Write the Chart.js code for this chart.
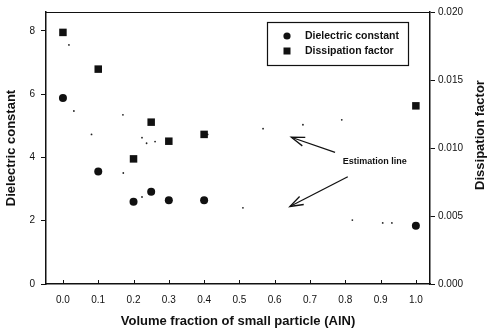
<!DOCTYPE html>
<html>
<head>
<meta charset="utf-8">
<script src="https://cdn.jsdelivr.net/npm/chart.js@4.4.1/dist/chart.umd.min.js"></script>
<style>
  html, body { margin: 0; padding: 0; background: #fff; }
  #wrap { width: 495px; height: 336px; position: relative; }
</style>
</head>
<body>
<div id="wrap"><canvas id="c" width="495" height="336"></canvas></div>
<script>
// ---- data ----
const volumeFraction = [0.0, 0.1, 0.2, 0.25, 0.3, 0.4, 1.0];
const dielectricConstant = [5.88, 3.56, 2.60, 2.92, 2.65, 2.65, 1.84];
const dissipationFactor = [0.0185, 0.0158, 0.0092, 0.0119, 0.0105, 0.0110, 0.0131];

// estimation line (dotted, scanned) sample points
const estDielectricX = [0.031, 0.081, 0.171, 0.224, 0.51, 0.82, 0.906, 0.932];
const estDielectricY = [5.47, 4.73, 3.51, 2.75, 2.41, 2.02, 1.93, 1.93];
const estDissipationX = [0.017, 0.17, 0.224, 0.237, 0.261, 0.41, 0.567, 0.68, 0.79];
const estDissipationY = [0.01758, 0.01244, 0.01076, 0.01035, 0.01047, 0.0110, 0.01142, 0.01171, 0.01207];

// tick labels
const xTicks = [0.0, 0.1, 0.2, 0.3, 0.4, 0.5, 0.6, 0.7, 0.8, 0.9, 1.0];
const leftTicks = [0, 2, 4, 6, 8];
const rightTicks = [0.000, 0.005, 0.010, 0.015, 0.020];

const seriesNames = ['Dielectric constant', 'Dissipation factor'];
const annotationText = 'Estimation line';
const xTitle = 'Volume fraction of small particle (AlN)';
const leftTitle = 'Dielectric constant';
const rightTitle = 'Dissipation factor';

// ---- build ----
const pts = (xs, ys) => xs.map((x, i) => ({ x: x, y: ys[i] }));
const INK = '#111';
const FONT = '"Liberation Sans", Arial, sans-serif';

// annotation arrows (data coords on x / left axis)
const arrows = [
  { from: [0.771, 4.16], to: [0.647, 4.64] },
  { from: [0.807, 3.39], to: [0.643, 2.45] }
];
const labelAt = [0.793, 3.88];

const extras = {
  id: 'extras',
  afterDraw(chart) {
    const ctx = chart.ctx;
    const a = chart.chartArea;
    const xs = chart.scales.x, ys = chart.scales.y;
    ctx.save();
    ctx.strokeStyle = INK;
    ctx.fillStyle = INK;
    // top frame
    ctx.lineWidth = 1.2;
    ctx.beginPath();
    ctx.moveTo(a.left, a.top + 0.5);
    ctx.lineTo(a.right, a.top + 0.5);
    ctx.stroke();
    // inward x ticks
    ctx.lineWidth = 1;
    xTicks.forEach(v => {
      const px = Math.round(xs.getPixelForValue(v)) + 0.5;
      ctx.beginPath();
      ctx.moveTo(px, a.bottom);
      ctx.lineTo(px, a.bottom - 4);
      ctx.stroke();
    });
    // arrows
    ctx.lineWidth = 1.3;
    arrows.forEach(ar => {
      const x1 = xs.getPixelForValue(ar.from[0]), y1 = ys.getPixelForValue(ar.from[1]);
      const x2 = xs.getPixelForValue(ar.to[0]), y2 = ys.getPixelForValue(ar.to[1]);
      ctx.beginPath();
      ctx.moveTo(x1, y1);
      ctx.lineTo(x2, y2);
      ctx.stroke();
      const ang = Math.atan2(y1 - y2, x1 - x2);
      const L = 14, w = 0.33;
      ctx.beginPath();
      ctx.moveTo(x2 + L * Math.cos(ang + w), y2 + L * Math.sin(ang + w));
      ctx.lineTo(x2, y2);
      ctx.lineTo(x2 + L * Math.cos(ang - w), y2 + L * Math.sin(ang - w));
      ctx.stroke();
    });
    // annotation text
    ctx.font = 'bold 9px ' + FONT;
    ctx.textAlign = 'left';
    ctx.textBaseline = 'middle';
    ctx.fillText(annotationText, xs.getPixelForValue(labelAt[0]), ys.getPixelForValue(labelAt[1]));
    // legend box
    const bx = a.right - 163, by = a.top + 10, bw = 141, bh = 43;
    ctx.lineWidth = 1.2;
    ctx.strokeRect(bx + 0.5, by + 0.5, bw, bh);
    ctx.beginPath();
    ctx.arc(bx + 20, by + 14, 3.6, 0, Math.PI * 2);
    ctx.fill();
    ctx.fillRect(bx + 16.5, by + 25.5, 7, 7);
    ctx.font = 'bold 10.5px ' + FONT;
    ctx.fillText(seriesNames[0], bx + 38, by + 14);
    ctx.fillText(seriesNames[1], bx + 38, by + 29);
    // right title (reads bottom to top)
    ctx.font = 'bold 13px ' + FONT;
    ctx.textAlign = 'center';
    ctx.translate(480, 135);
    ctx.rotate(-Math.PI / 2);
    ctx.fillText(rightTitle, 0, 0);
    ctx.restore();
  }
};

new Chart(document.getElementById('c'), {
  type: 'scatter',
  data: {
    datasets: [
      { label: seriesNames[0], data: pts(volumeFraction, dielectricConstant), yAxisID: 'y',
        pointStyle: 'circle', pointRadius: 4, backgroundColor: INK, borderColor: INK, borderWidth: 0 },
      { label: seriesNames[1], data: pts(volumeFraction, dissipationFactor), yAxisID: 'y2',
        pointStyle: 'rect', pointRadius: 5.3, backgroundColor: INK, borderColor: INK, borderWidth: 0 },
      { label: 'est1', data: pts(estDielectricX, estDielectricY), yAxisID: 'y',
        pointRadius: 0.9, backgroundColor: '#222', borderWidth: 0 },
      { label: 'est2', data: pts(estDissipationX, estDissipationY), yAxisID: 'y2',
        pointRadius: 0.9, backgroundColor: '#222', borderWidth: 0 }
    ]
  },
  options: {
    responsive: false,
    animation: false,
    layout: { padding: { left: 0, right: 0, top: 9, bottom: 3 } },
    plugins: { legend: { display: false }, tooltip: { enabled: false } },
    scales: {
      x: {
        type: 'linear', position: 'bottom', min: -0.048, max: 1.04,
        afterBuildTicks: s => { s.ticks = xTicks.map(v => ({ value: v })); },
        afterFit: s => { s.height = 49; },
        grid: { drawOnChartArea: false, drawTicks: false },
        border: { display: true, color: INK, width: 1.5 },
        ticks: { color: INK, padding: 10, font: { size: 10, family: FONT }, maxRotation: 0,
                 callback: v => Number(v).toFixed(1) },
        title: { display: true, text: xTitle, color: INK, font: { size: 13, weight: 'bold', family: FONT }, padding: { top: 4, bottom: 4 } }
      },
      y: {
        type: 'linear', position: 'left', min: 0, max: 8.6,
        afterBuildTicks: s => { s.ticks = leftTicks.map(v => ({ value: v })); },
        afterFit: s => { s.width = 46; },
        grid: { drawOnChartArea: false, drawTicks: true, tickLength: 5, color: INK },
        border: { display: true, color: INK, width: 1.5 },
        ticks: { color: INK, padding: 6, font: { size: 10, family: FONT }, callback: v => String(v) },
        title: { display: true, text: leftTitle, color: INK, font: { size: 13, weight: 'bold', family: FONT }, padding: { top: 4, bottom: 4 } }
      },
      y2: {
        type: 'linear', position: 'right', min: 0, max: 0.020,
        afterBuildTicks: s => { s.ticks = rightTicks.map(v => ({ value: v })); },
        afterFit: s => { s.width = 65; },
        grid: { drawOnChartArea: false, drawTicks: true, tickLength: 5, color: INK },
        border: { display: true, color: INK, width: 1.5 },
        ticks: { color: INK, padding: 3, font: { size: 10, family: FONT }, callback: v => Number(v).toFixed(3) }
      }
    }
  },
  plugins: [extras]
});
</script>
</body>
</html>
